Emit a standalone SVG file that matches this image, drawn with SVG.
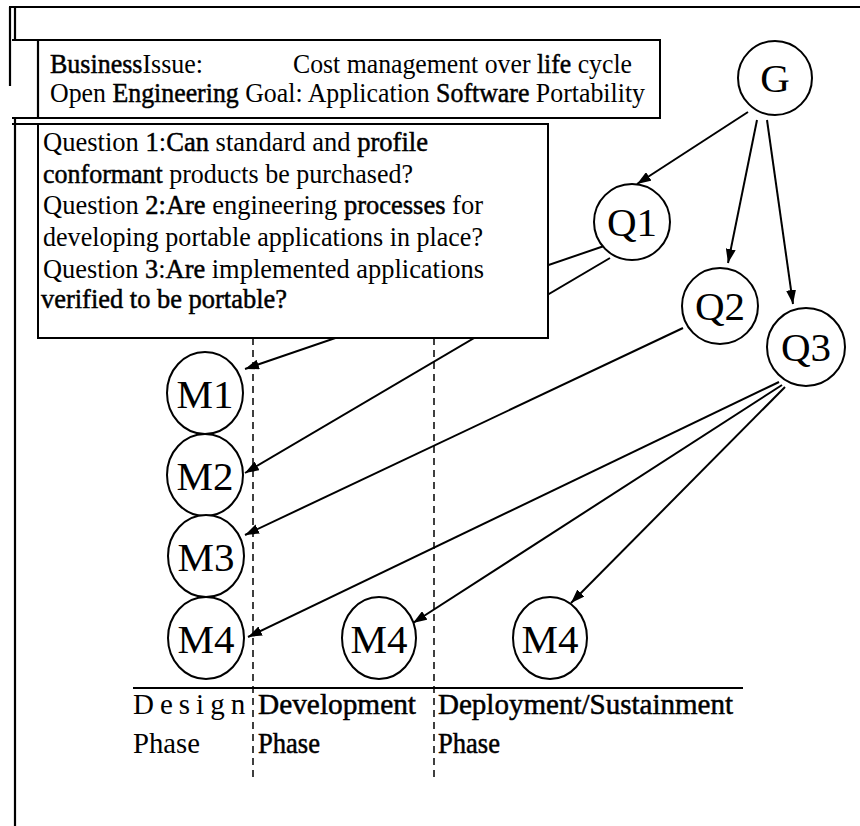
<svg xmlns="http://www.w3.org/2000/svg" width="860" height="826" viewBox="0 0 860 826">
<defs>
<style>
.frame{stroke:#000;stroke-width:2.2;fill:none}
.box{stroke:#000;stroke-width:2;fill:#fff}
.t{font-size:28px;fill:#000}
.b{stroke:#000;stroke-width:0.5}
.node{stroke:#000;stroke-width:2;fill:#fff}
.nt{font-size:41px;fill:#000;text-anchor:middle}
.edge{stroke:#000;stroke-width:2;fill:none;marker-end:url(#ah)}
.dash{stroke:#000;stroke-width:1.5;stroke-dasharray:7 5;fill:none}
.ph{font-size:29px;fill:#000}
</style>
<marker id="ah" markerUnits="userSpaceOnUse" markerWidth="14" markerHeight="10" refX="14" refY="5" orient="auto">
<path d="M0,0 L14,5 L0,10 z" fill="#000"/>
</marker>
</defs>
<rect width="860" height="826" fill="#fff"/>
<g id="frame">
<line class="frame" x1="9" y1="7" x2="860" y2="7"/>
<line class="frame" x1="10" y1="7" x2="10" y2="86"/>
<line class="frame" x1="15" y1="7" x2="15" y2="826"/>
</g>
<g id="phases">
<line class="dash" x1="253" y1="338" x2="253" y2="778"/>
<line class="dash" x1="434" y1="338" x2="434" y2="778"/>
<line stroke="#000" stroke-width="2.2" x1="133" y1="688" x2="743" y2="688"/>
<text class="ph" style="font-family:'Liberation Serif',serif" x="133" y="714" letter-spacing="6">Design</text>
<text class="ph" style="font-family:'Liberation Serif',serif" x="133" y="753" textLength="67" lengthAdjust="spacingAndGlyphs">Phase</text>
<text class="ph b" style="font-family:'Liberation Serif',serif" x="258" y="714" textLength="158" lengthAdjust="spacingAndGlyphs">Development</text>
<text class="ph b" style="font-family:'Liberation Serif',serif" x="258" y="753" textLength="62" lengthAdjust="spacingAndGlyphs">Phase</text>
<text class="ph b" style="font-family:'Liberation Serif',serif" x="438" y="714" textLength="295" lengthAdjust="spacingAndGlyphs">Deployment/Sustainment</text>
<text class="ph b" style="font-family:'Liberation Serif',serif" x="438" y="753" textLength="62" lengthAdjust="spacingAndGlyphs">Phase</text>
</g>
<g id="connectors">
<line class="edge" x1="748" y1="112" x2="637" y2="184"/>
<line class="edge" x1="757" y1="120" x2="728" y2="263"/>
<line class="edge" x1="767" y1="120" x2="793" y2="304"/>
<line class="edge" x1="607" y1="245" x2="245" y2="369"/>
<line class="edge" x1="610" y1="258" x2="245" y2="473"/>
<line class="edge" x1="683" y1="328" x2="245" y2="535"/>
<line class="edge" x1="779" y1="382" x2="248" y2="637"/>
<line class="edge" x1="782" y1="385" x2="413" y2="623"/>
<line class="edge" x1="785" y1="387" x2="571" y2="603"/>
</g>
<g id="issue-box">
<path class="box" d="M12,40 H660 V118 H12"/>
<line class="frame" x1="38" y1="40" x2="38" y2="118"/>
<text class="t" style="font-family:'Liberation Serif',serif" x="50" y="73" textLength="153" lengthAdjust="spacingAndGlyphs"><tspan class="b">Business</tspan>Issue:</text>
<text class="t" style="font-family:'Liberation Serif',serif" x="293" y="73" textLength="339" lengthAdjust="spacingAndGlyphs">Cost management over <tspan class="b">life</tspan> cycle</text>
<text class="t" style="font-family:'Liberation Serif',serif" x="50" y="102" textLength="595" lengthAdjust="spacingAndGlyphs">Open <tspan class="b">Engineering</tspan> Goal: Application <tspan class="b">Software</tspan> Portability</text>
</g>
<g id="question-box">
<path class="box" d="M12,124 H548 V338 H38 V124"/>
<text class="t" style="font-family:'Liberation Serif',serif" x="43" y="151" textLength="385" lengthAdjust="spacingAndGlyphs">Question <tspan class="b">1</tspan>:<tspan class="b">Can</tspan> standard and <tspan class="b">profile</tspan></text>
<text class="t" style="font-family:'Liberation Serif',serif" x="43" y="183" textLength="370" lengthAdjust="spacingAndGlyphs"><tspan class="b">conformant</tspan> products be purchased?</text>
<text class="t" style="font-family:'Liberation Serif',serif" x="43" y="214" textLength="440" lengthAdjust="spacingAndGlyphs">Question <tspan class="b">2:Are</tspan> engineering <tspan class="b">processes</tspan> for</text>
<text class="t" style="font-family:'Liberation Serif',serif" x="43" y="246" textLength="440" lengthAdjust="spacingAndGlyphs">developing portable applications in place?</text>
<text class="t" style="font-family:'Liberation Serif',serif" x="43" y="278" textLength="441" lengthAdjust="spacingAndGlyphs">Question <tspan class="b">3</tspan>:<tspan class="b">Are</tspan> implemented applications</text>
<text class="t" style="font-family:'Liberation Serif',serif" x="41" y="308" textLength="246" lengthAdjust="spacingAndGlyphs"><tspan class="b">verified to be portable?</tspan></text>
</g>
<g id="G"><circle class="node" cx="775" cy="78" r="37"/><text class="nt" style="font-family:'Liberation Serif',serif" x="775" y="92">G</text></g>
<g id="Q1"><circle class="node" cx="632" cy="222" r="38"/><text class="nt" style="font-family:'Liberation Serif',serif" x="632" y="236">Q1</text></g>
<g id="Q2"><circle class="node" cx="720" cy="306" r="38"/><text class="nt" style="font-family:'Liberation Serif',serif" x="720" y="320">Q2</text></g>
<g id="Q3"><circle class="node" cx="806" cy="347" r="39"/><text class="nt" style="font-family:'Liberation Serif',serif" x="806" y="361">Q3</text></g>
<g id="M1"><ellipse class="node" cx="205" cy="393" rx="38" ry="41"/><text class="nt" style="font-family:'Liberation Serif',serif" x="205" y="408">M1</text></g>
<g id="M2"><ellipse class="node" cx="205" cy="475" rx="38" ry="41"/><text class="nt" style="font-family:'Liberation Serif',serif" x="205" y="490">M2</text></g>
<g id="M3"><ellipse class="node" cx="206" cy="556" rx="38" ry="41"/><text class="nt" style="font-family:'Liberation Serif',serif" x="206" y="571">M3</text></g>
<g id="M4-design"><ellipse class="node" cx="206" cy="638" rx="38" ry="41"/><text class="nt" style="font-family:'Liberation Serif',serif" x="206" y="653">M4</text></g>
<g id="M4-development"><ellipse class="node" cx="379" cy="638" rx="37" ry="41"/><text class="nt" style="font-family:'Liberation Serif',serif" x="379" y="653">M4</text></g>
<g id="M4-deployment"><ellipse class="node" cx="550" cy="638" rx="37" ry="41"/><text class="nt" style="font-family:'Liberation Serif',serif" x="550" y="653">M4</text></g>
</svg>
